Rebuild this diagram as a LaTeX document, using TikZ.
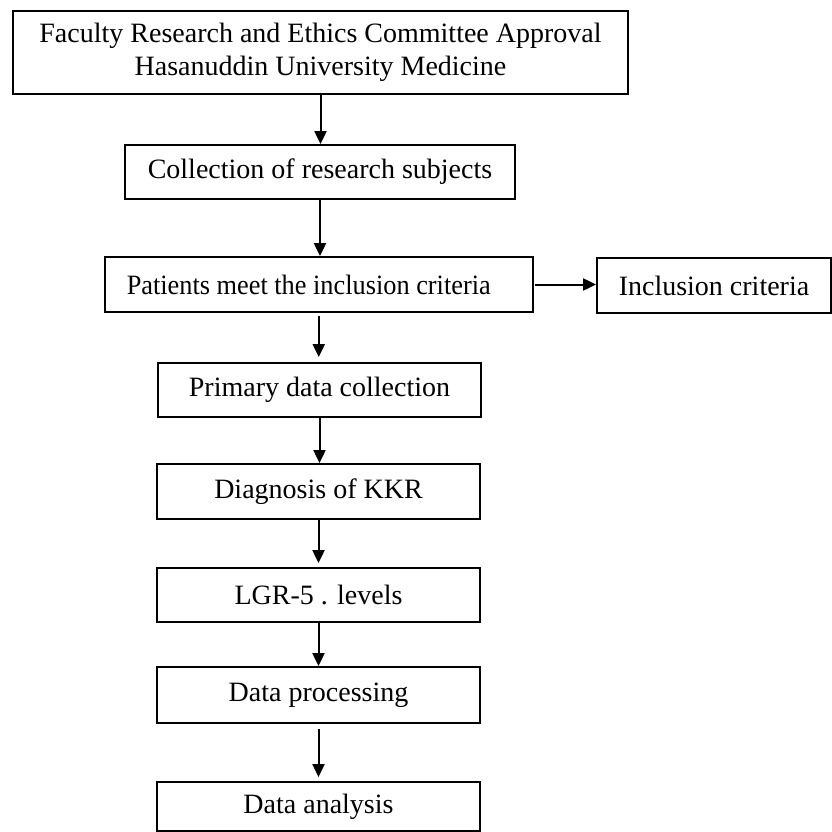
\documentclass[tikz,border=0pt]{standalone}
\usepackage{fontspec}
\setmainfont{Liberation Serif}
\usetikzlibrary{arrows.meta}
\begin{document}
\begin{tikzpicture}[x=1pt,y=-1pt,
  box/.style={draw=black,line width=1.8pt,inner sep=0pt,align=center,
    font=\fontsize{28}{33}\selectfont},
  arr/.style={line width=2pt,-{Triangle[length=13pt,width=12pt]}}]
\useasboundingbox[fill=white] (0,0) rectangle (832,832);
\node[box,minimum width=615pt,minimum height=83pt] (b1) at (320.5,52.5)
  {Faculty Research and Ethics Committee Approval\\Hasanuddin University Medicine};
\node[box,minimum width=390pt,minimum height=54pt] (b2) at (320,172) {Collection of research subjects};
\node[box,minimum width=428pt,minimum height=55pt] (b3) at (318.75,284.5) {\hspace*{-20pt}\scalebox{0.94}[1]{Patients meet the inclusion criteria}};
\node[box,minimum width=234pt,minimum height=55pt] (b4) at (714,285.5) {Inclusion criteria};
\node[box,minimum width=323pt,minimum height=54pt] (b5) at (319.5,390) {Primary data collection};
\node[box,minimum width=323pt,minimum height=55pt] (b6) at (318.5,491.5) {Diagnosis of KKR};
\node[box,minimum width=323pt,minimum height=54pt] (b7) at (318.5,595) {LGR-5 . levels};
\node[box,minimum width=323pt,minimum height=56pt] (b8) at (318.5,695) {Data processing};
\node[box,minimum width=323pt,minimum height=49pt] (b9) at (318.5,806.5) {Data analysis};
\draw[arr] (b1.south) -- (b1.south |- b2.north);
\draw[arr] (b2.south) -- (b2.south |- b3.north);
\draw[arr,shorten <=3pt,shorten >=5pt] (b3.south) -- (b3.south |- b5.north);
\draw[arr] (b5.south) -- (b5.south |- b6.north);
\draw[arr,shorten >=4pt] (b6.south) -- (b6.south |- b7.north);
\draw[arr] (b7.south) -- (b7.south |- b8.north);
\draw[arr,shorten <=5pt,shorten >=4pt] (b8.south) -- (b8.south |- b9.north);
\draw[arr,shorten <=1pt] (b3.east) -- (b3.east -| b4.west);
\end{tikzpicture}
\end{document}
